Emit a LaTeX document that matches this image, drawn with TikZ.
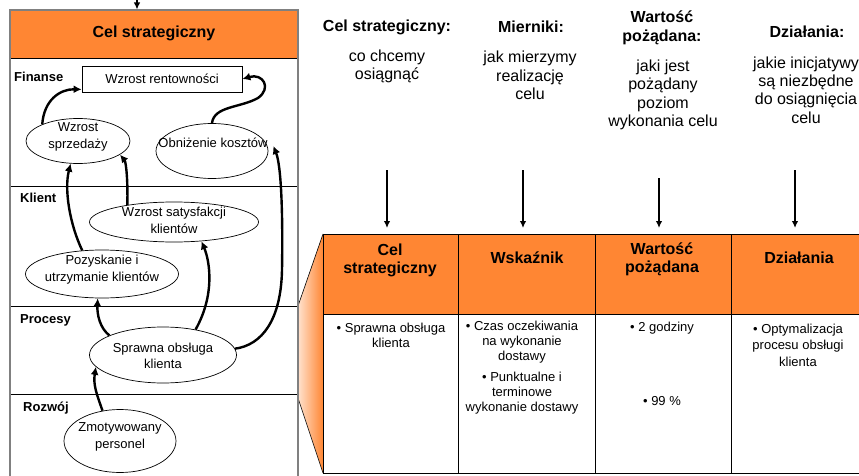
\documentclass[tikz,border=0pt]{standalone}
\usepackage{fontspec}
\setmainfont{Liberation Sans}
\usetikzlibrary{arrows.meta,shapes.geometric}
\definecolor{bscorange}{RGB}{255,134,51}
\definecolor{bscpeach}{RGB}{255,226,206}
\definecolor{framegray}{RGB}{128,128,128}

\begin{document}
\begin{tikzpicture}[x=1pt,y=-1pt,
  flow/.style={line width=2.4pt,-{Latex[length=8pt,width=8pt]}},
  down/.style={line width=1.6pt,-{Latex[length=7pt,width=6.5pt]}},
  goalshape/.style={ellipse,draw,line width=0.7pt,inner sep=0pt},
  goaltext/.style={align=center,inner sep=0pt,font=\fontsize{13}{16.5}\selectfont},
  lane/.style={anchor=west,inner sep=0pt,font=\bfseries\fontsize{13}{15}\selectfont},
  colhead/.style={align=center,inner sep=0pt,font=\bfseries\fontsize{16}{19}\selectfont},
  coldesc/.style={align=center,inner sep=0pt,font=\fontsize{16}{18.3}\selectfont},
  cellhead/.style={align=center,inner sep=0pt,font=\bfseries\fontsize{16}{18}\selectfont},
  celltext/.style={align=center,inner sep=0pt,font=\fontsize{13}{15}\selectfont},
  cellline/.style={draw=black,line width=0.8pt}
]
\useasboundingbox (0,0) rectangle (859,476);
\clip (0,0) rectangle (859,476);

% ---------- left panel: strategy map ----------
\fill[bscorange] (10,10) rectangle (298,58);
\node[inner sep=0pt,font=\bfseries\fontsize{16}{19}\selectfont] (goal) at (154,33) {Cel strategiczny};
\draw[line width=0.8pt] (10,58) -- (298,58);
\draw[line width=0.8pt] (10,186.5) -- (298,186.5);
\draw[line width=0.8pt] (10,306) -- (298,306);
\draw[line width=0.8pt] (10,394) -- (298,394);

% funnel from the process lane to the table
\shade[left color=bscpeach,right color=bscorange] (298,306) -- (323,234) -- (323,473) -- (298,398) -- cycle;
\draw[line width=0.6pt] (298,306) -- (323,234);
\draw[line width=0.6pt] (298,398) -- (323,473);

\draw[framegray,line width=1.8pt] (10,10) rectangle (298,490);

\coordinate (topin) at (137,-2);
\draw[down,line width=1.2pt] (topin) -- (137,9.5);

\node[lane] (l1) at (14,77) {Finanse};
\node[lane] (l2) at (20,198) {Klient};
\node[lane] (l3) at (20,320) {Procesy};
\node[lane] (l4) at (23,408) {Rozwój};

\node[draw,line width=0.8pt,minimum width=160pt,minimum height=26pt,inner sep=0pt,
      font=\fontsize{13}{16}\selectfont] (rent) at (162,79) {Wzrost rentowności};

\node[goalshape,minimum width=104pt,minimum height=45pt] (sprz) at (78,141) {};
\node[goaltext] (sprzt) at (78,137) {Wzrost\\sprzedaży};

\node[goalshape,minimum width=112pt,minimum height=55pt] (obn) at (212,151) {};
\node[goaltext] (obnt) at (213,143) {Obniżenie kosztów};

\node[goalshape,minimum width=169pt,minimum height=40pt] (sat) at (174,222) {};
\node[goaltext] (satt) at (174,220.5) {Wzrost satysfakcji\\klientów};

\node[goalshape,minimum width=153pt,minimum height=48pt] (poz) at (102,274) {};
\node[goaltext] (pozt) at (102,269.5) {Pozyskanie i\\utrzymanie klientów};

\node[goalshape,minimum width=147pt,minimum height=56pt] (spr) at (163,355) {};
\node[goaltext] (sprt) at (163,356) {Sprawna obsługa\\klienta};

\node[goalshape,minimum width=112pt,minimum height=63pt] (zmo) at (120,441) {};
\node[goaltext] (zmot) at (120,437) {Zmotywowany\\personel};

% cause-and-effect links
\draw[flow] (sprz.155) .. controls (44,100) and (60,89) .. ([yshift=3pt]rent.south west);
\draw[flow] (obn.north) .. controls (214,106) and (240,108) .. (258,98)
             .. controls (272,88) and (263,73) .. (rent.east);
\draw[flow] (poz.130) .. controls (70,225) and (64,190) .. (sprz.252);
\draw[flow] (sat.160) .. controls (128,180) and (126,162) .. (sprz.-18);
\draw[flow] (spr.38) .. controls (215,295) and (210,262) .. (sat.-35);
\draw[flow] (spr.5) .. controls (262,345) and (281,320) .. (282,270)
             .. controls (283,210) and (281,165) .. ([xshift=5pt,yshift=5pt]obn.east);
\draw[flow] (spr.160) .. controls (100,328) and (97,315) .. (poz.-100);
\draw[flow] (zmo.120) .. controls (97,395) and (93,385) .. (spr.-170);

% ---------- right part: column descriptions ----------
\node[colhead] (t1) at (387,27) {Cel strategiczny:};
\node[coldesc] (d1) at (387,66.5) {co chcemy\\osiągnąć};
\node[colhead] (t2) at (531,27) {Mierniki:};
\node[coldesc] (d2) at (530,75.5) {jak mierzymy\\realizację\\celu};
\node[colhead] (t3) at (662,28) {Wartość\\pożądana:};
\node[coldesc] (d3) at (663,95) {jaki jest\\pożądany\\poziom\\wykonania celu};
\node[colhead] (t4) at (807,32) {Działania:};
\node[coldesc] (d4) at (806,90) {jakie inicjatywy\\są niezbędne\\do osiągnięcia\\celu};

\coordinate (a1s) at (387,170); \coordinate (a1e) at (387,228);
\coordinate (a2s) at (523,170); \coordinate (a2e) at (523,228);
\coordinate (a3s) at (659,178); \coordinate (a3e) at (659,228);
\coordinate (a4s) at (795,170); \coordinate (a4e) at (795,228);
\draw[down] (a1s) -- (a1e);
\draw[down] (a2s) -- (a2e);
\draw[down] (a3s) -- (a3e);
\draw[down] (a4s) -- (a4e);

% ---------- right part: table ----------
\fill[bscorange] (323,234) rectangle (870,314);
\draw[cellline] (323,234) rectangle (870,473);
\draw[cellline] (323,314) -- (870,314);
\draw[cellline] (458,234) -- (458,473);
\draw[cellline] (595,234) -- (595,473);
\draw[cellline] (731,234) -- (731,473);

\node[cellhead] (h1) at (390,260) {Cel\\strategiczny};
\node[cellhead] (h2) at (527,258) {Wskaźnik};
\node[cellhead] (h3) at (662,259.5) {Wartość\\pożądana};
\node[cellhead] (h4) at (799,258) {Działania};

\node[celltext] (c1) at (391,335.5) {• Sprawna obsługa\\klienta};
\node[celltext] (c2a) at (522,342) {• Czas oczekiwania\\na wykonanie\\dostawy};
\node[celltext] (c2b) at (522,393.5) {• Punktualne i\\terminowe\\wykonanie dostawy};
\node[celltext] (c3a) at (662,328) {• 2 godziny};
\node[celltext] (c3b) at (662,401) {• 99 \%};
\node[celltext,font=\fontsize{13}{16.5}\selectfont] (c4) at (798,345) {• Optymalizacja\\procesu obsługi\\klienta};
\end{tikzpicture}
\end{document}
